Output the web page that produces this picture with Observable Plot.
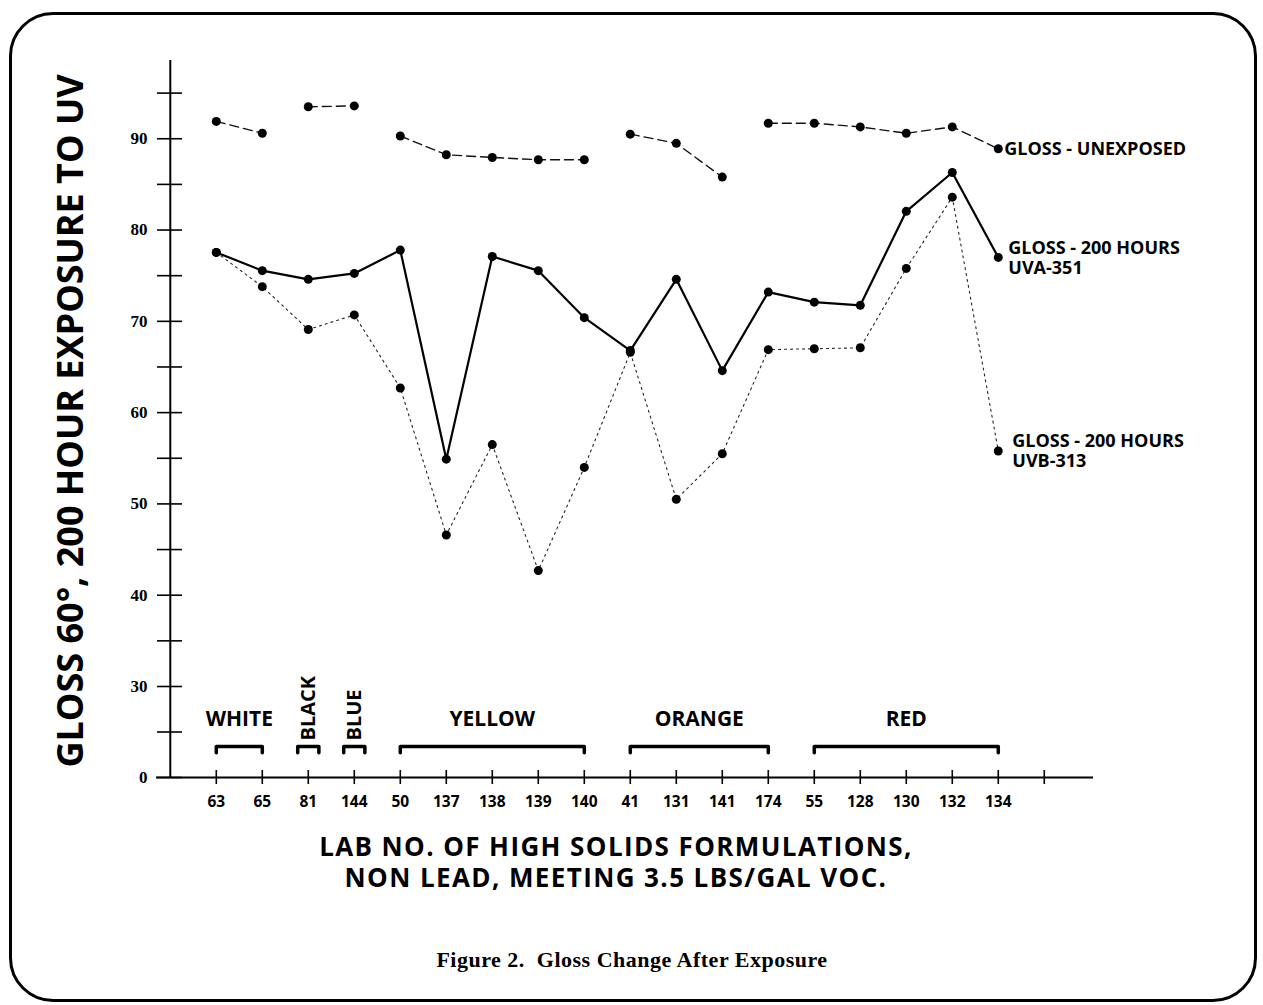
<!DOCTYPE html>
<html>
<head>
<meta charset="utf-8">
<script src="https://cdn.jsdelivr.net/npm/d3@7"></script>
<script src="https://cdn.jsdelivr.net/npm/@observablehq/plot@0.6"></script>
<style>
  body { margin: 0; background: #fff; }
  #page { position: relative; width: 1263px; height: 1005px; overflow: hidden; background: #fff; color: #000; }
  #border { position: absolute; left: 9px; top: 12px; width: 1242px; height: 984px; border: 3px solid #000; border-radius: 44px; }
  #chart { position: absolute; left: 0; top: 0; }
  .xtitle { position: absolute; left: 0; width: 1232px; text-align: center; font-family: "Open Sans", sans-serif; font-weight: bold; font-size: 26px; letter-spacing: 1.4px; line-height: 31px; white-space: nowrap; }
  #caption { position: absolute; left: 0; width: 1264px; top: 948px; text-align: center; font-family: "Liberation Serif", serif; font-weight: bold; font-size: 22px; letter-spacing: 0.5px; line-height: 24px; }
</style>
</head>
<body>
<div id="page">
  <div id="border"></div>
  <div id="chart"></div>
  <div class="xtitle" style="top:831px">LAB NO. OF HIGH SOLIDS FORMULATIONS,</div>
  <div class="xtitle" style="top:862px">NON LEAD, MEETING 3.5 LBS/GAL VOC.</div>
  <div id="caption">Figure 2.&nbsp; Gloss Change After Exposure</div>
</div>
<script>
// ---- data ----
const labs = ["63","65","81","144","50","137","138","139","140","41","131","141","174","55","128","130","132","134"];
const unexposed = [91.9, 90.6, 93.5, 93.6, 90.3, 88.25, 87.95, 87.7, 87.7, 90.5, 89.5, 85.8, 91.7, 91.7, 91.3, 90.6, 91.3, 88.9];
const unexposedRun = [1, 1, 2, 2, 3, 3, 3, 3, 3, 4, 4, 4, 5, 5, 5, 5, 5, 5];
const uva351 = [77.55, 75.55, 74.6, 75.25, 77.8, 54.9, 77.1, 75.55, 70.4, 66.8, 74.6, 64.6, 73.2, 72.1, 71.75, 82.05, 86.3, 77.0];
const uvb313 = [77.55, 73.8, 69.1, 70.7, 62.7, 46.6, 56.5, 42.7, 54.0, 66.6, 50.5, 55.5, 66.9, 67.0, 67.1, 75.8, 83.6, 55.8];
const seriesLabels = ["GLOSS - UNEXPOSED", "GLOSS - 200 HOURS\nUVA-351", "GLOSS - 200 HOURS\nUVB-313"];
const groupNames = ["WHITE", "BLACK", "BLUE", "YELLOW", "ORANGE", "RED"];
const groupFirst = ["63", "81", "144", "50", "41", "55"];
const groupLast = ["65", "81", "144", "140", "174", "134"];
const groupVertical = [false, true, true, false, false, false];
const yTicks = [0, 15, 30, 35, 40, 45, 50, 55, 60, 65, 70, 75, 80, 85, 90, 95];
const yTickLabels = [0, 30, 40, 50, 60, 70, 80, 90];

// ---- derived tables ----
const rows = labs.map((lab, i) => ({
  lab, pos: i + 1,
  unexposed: unexposed[i], run: unexposedRun[i],
  uva: uva351[i], uvb: uvb313[i]
}));
const xTicks = d3.range(1, labs.length + 2);
const groups = groupNames.map((name, k) => {
  const a = labs.indexOf(groupFirst[k]) + 1;
  const b = labs.indexOf(groupLast[k]) + 1;
  return {name, a, b, mid: (a + b) / 2, vertical: groupVertical[k]};
});
const bracketTop = 10.2, bracketEnd = 8.2, singleHalf = 0.23;
const brackets = groups.flatMap((g, k) => {
  const a = g.a === g.b ? g.a - singleHalf : g.a;
  const b = g.a === g.b ? g.b + singleHalf : g.b;
  return [
    {k, x: a, y: bracketEnd}, {k, x: a, y: bracketTop},
    {k, x: b, y: bracketTop}, {k, x: b, y: bracketEnd}
  ];
});
const last = labs.length;
const legend = [
  {label: seriesLabels[0], x: last, y: unexposed[last - 1], dx: 6},
  {label: seriesLabels[1], x: last, y: uva351[last - 1], dx: 10},
  {label: seriesLabels[2], x: last, y: uvb313[last - 1], dx: 14}
];

const SANS = "Open Sans, sans-serif";

const plot = Plot.plot({
  width: 1263,
  height: 830,
  marginLeft: 156,
  marginRight: 170,
  marginTop: 60,
  marginBottom: 53,
  style: {background: "none", overflow: "visible", fontFamily: SANS, color: "#000"},
  x: {type: "linear", domain: [-0.3, 20.07], axis: null},
  y: {type: "linear", domain: [0, 30, 95], range: [777, 686, 92.6], axis: null},
  marks: [
    Plot.ruleX([0], {stroke: "#000", strokeWidth: 2}),
    Plot.ruleY([0], {stroke: "#000", strokeWidth: 2}),
    Plot.axisY({
      ticks: yTicks,
      tickFormat: d => yTickLabels.includes(d) ? String(d) : "",
      tickSize: 25, dx: 26, tickPadding: 10,
      strokeWidth: 1.6,
      fontSize: 17, fontFamily: "Liberation Serif, serif", fontWeight: "bold",
      label: null
    }),
    Plot.axisX({
      ticks: xTicks,
      tickFormat: i => labs[i - 1] ?? "",
      tickSize: 14, dy: -7, tickPadding: 11,
      strokeWidth: 1.6,
      fontSize: 15.5, fontFamily: SANS, fontWeight: "bold",
      label: null
    }),
    // y title
    Plot.text(["GLOSS 60°, 200 HOUR EXPOSURE TO UV"], {
      frameAnchor: "left", textAnchor: "middle", lineAnchor: "middle",
      rotate: -90, dx: -85, dy: 2,
      fontSize: 36, fontWeight: "bold", fontFamily: SANS
    }),
    // series lines
    Plot.line(rows, {x: "pos", y: "unexposed", z: "run", stroke: "#111", strokeWidth: 1.4, strokeDasharray: "9,5"}),
    Plot.line(rows, {x: "pos", y: "uvb", stroke: "#222", strokeWidth: 1.1, strokeDasharray: "2,4"}),
    Plot.line(rows, {x: "pos", y: "uva", stroke: "#000", strokeWidth: 2.2}),
    Plot.dot(rows, {x: "pos", y: "unexposed", r: 4.5, fill: "#000", stroke: "none"}),
    Plot.dot(rows, {x: "pos", y: "uvb", r: 4.5, fill: "#000", stroke: "none"}),
    Plot.dot(rows, {x: "pos", y: "uva", r: 4.5, fill: "#000", stroke: "none"}),
    // series labels
    ...legend.map(d => Plot.text([d], {
      x: "x", y: "y", text: "label", dx: d.dx, textAnchor: "start", lineAnchor: "middle",
      lineHeight: 1.12, fontSize: 18, fontWeight: "bold", fontFamily: SANS
    })),
    // color-group brackets and labels
    Plot.line(brackets, {x: "x", y: "y", z: "k", stroke: "#000", strokeWidth: 3.5, strokeLinejoin: "round"}),
    Plot.text(groups.filter(g => !g.vertical), {
      x: "mid", y: 19.3, text: "name", fontSize: 21, fontWeight: "bold", fontFamily: SANS
    }),
    Plot.text(groups.filter(g => g.vertical), {
      x: "mid", y: 12.2, text: "name", rotate: -90, textAnchor: "start",
      fontSize: 20, fontWeight: "bold", fontFamily: SANS
    })
  ]
});
document.getElementById("chart").appendChild(plot);
</script>
</body>
</html>
